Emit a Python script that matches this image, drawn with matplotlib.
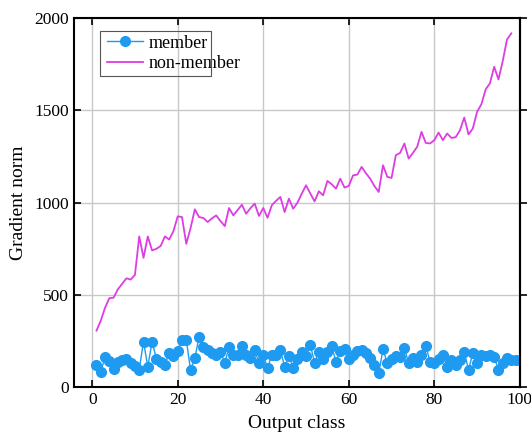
import numpy as np
import matplotlib
matplotlib.use("Agg")
import matplotlib.pyplot as plt
from matplotlib.patches import Rectangle

# data
member_x = list(range(1, 100))
member = [120, 80, 165, 140, 100, 135, 145, 155, 130, 115,
          95, 247, 110, 247, 155, 138, 120, 185, 170, 195,
          256, 256, 93, 157, 274, 220, 200, 184, 175, 193,
          130, 220, 175, 175, 223, 175, 157, 202, 130, 175,
          102, 175, 175, 202, 111, 169, 102, 151, 192, 169,
          229, 133, 193, 151, 190, 223, 138, 198, 205, 151,
          175, 198, 202, 184, 160, 120, 75, 205, 130, 150,
          169, 162, 211, 130, 157, 138, 175, 223, 138, 130,
          155, 175, 111, 147, 120, 147, 192, 93, 184, 130,
          175, 170, 175, 165, 93, 130, 157, 147, 145]

nonmember_x = list(range(1, 99))
nonmember = [306, 360, 430, 482, 485, 530, 560, 590, 583, 609,
             817, 701, 817, 741, 750, 765, 817, 800, 846, 926,
             922, 777, 862, 964, 922, 917, 895, 915, 931, 900,
             873, 971, 931, 960, 989, 940, 970, 995, 928, 971,
             918, 986, 1010, 1031, 949, 1022, 967, 1000, 1049, 1094,
             1050, 1007, 1062, 1040, 1118, 1100, 1076, 1130, 1082, 1091,
             1148, 1152, 1194, 1160, 1130, 1090, 1058, 1203, 1140, 1134,
             1257, 1270, 1321, 1239, 1270, 1303, 1384, 1324, 1321, 1339,
             1380, 1339, 1375, 1351, 1355, 1393, 1462, 1370, 1402, 1493,
             1533, 1614, 1647, 1737, 1668, 1768, 1885, 1918]

x_ticks = [0, 20, 40, 60, 80, 100]
y_ticks = [0, 500, 1000, 1500, 2000]

plt.rcParams['font.family'] = ['Liberation Serif', 'DejaVu Serif']

fig = plt.figure(figsize=(5.31, 4.34), dpi=100)
ax = fig.add_axes([0.139, 0.108, 0.840, 0.850])

ax.plot(member_x, member, color='#1e9bf0', linewidth=1.0, marker='o',
        markersize=7, label='member')
ax.plot(nonmember_x, nonmember, color='#de3ce4', linewidth=1.3,
        label='non-member')

ax.set_xlim(-4.3, 100)
ax.set_ylim(0, 2000)
ax.set_xticks(x_ticks)
ax.set_yticks(y_ticks)
ax.grid(True, color='#c8c8c8', linewidth=1.0)
ax.set_axisbelow(True)

ax.tick_params(axis='both', which='both', direction='in', length=5,
               width=1.2, labelsize=12.5, top=True, right=False)
for s in ax.spines.values():
    s.set_linewidth(1.5)

# right side ticks point outward in the original
sec = ax.secondary_yaxis('right')
sec.set_yticks(y_ticks)
sec.tick_params(direction='out', length=5, width=1.2, labelright=False)
sec.spines['right'].set_linewidth(1.5)

ax.set_xlabel('Output class', fontsize=14, labelpad=5)
ax.set_ylabel('Gradient norm', fontsize=14, labelpad=5)

# legend text runs past its frame in the original, so draw the frame apart
leg = ax.legend(loc='upper left', bbox_to_anchor=(0.042, 0.995),
                fontsize=13, frameon=False, handlelength=2.0,
                borderpad=0.3, labelspacing=0.2, handletextpad=0.3)
fig.patches.append(Rectangle((100 / 531, 1 - 76 / 434), 111 / 531, 45 / 434,
                             transform=fig.transFigure, fill=False,
                             edgecolor='#555555', linewidth=0.8))

fig.savefig('out.png', dpi=100)
